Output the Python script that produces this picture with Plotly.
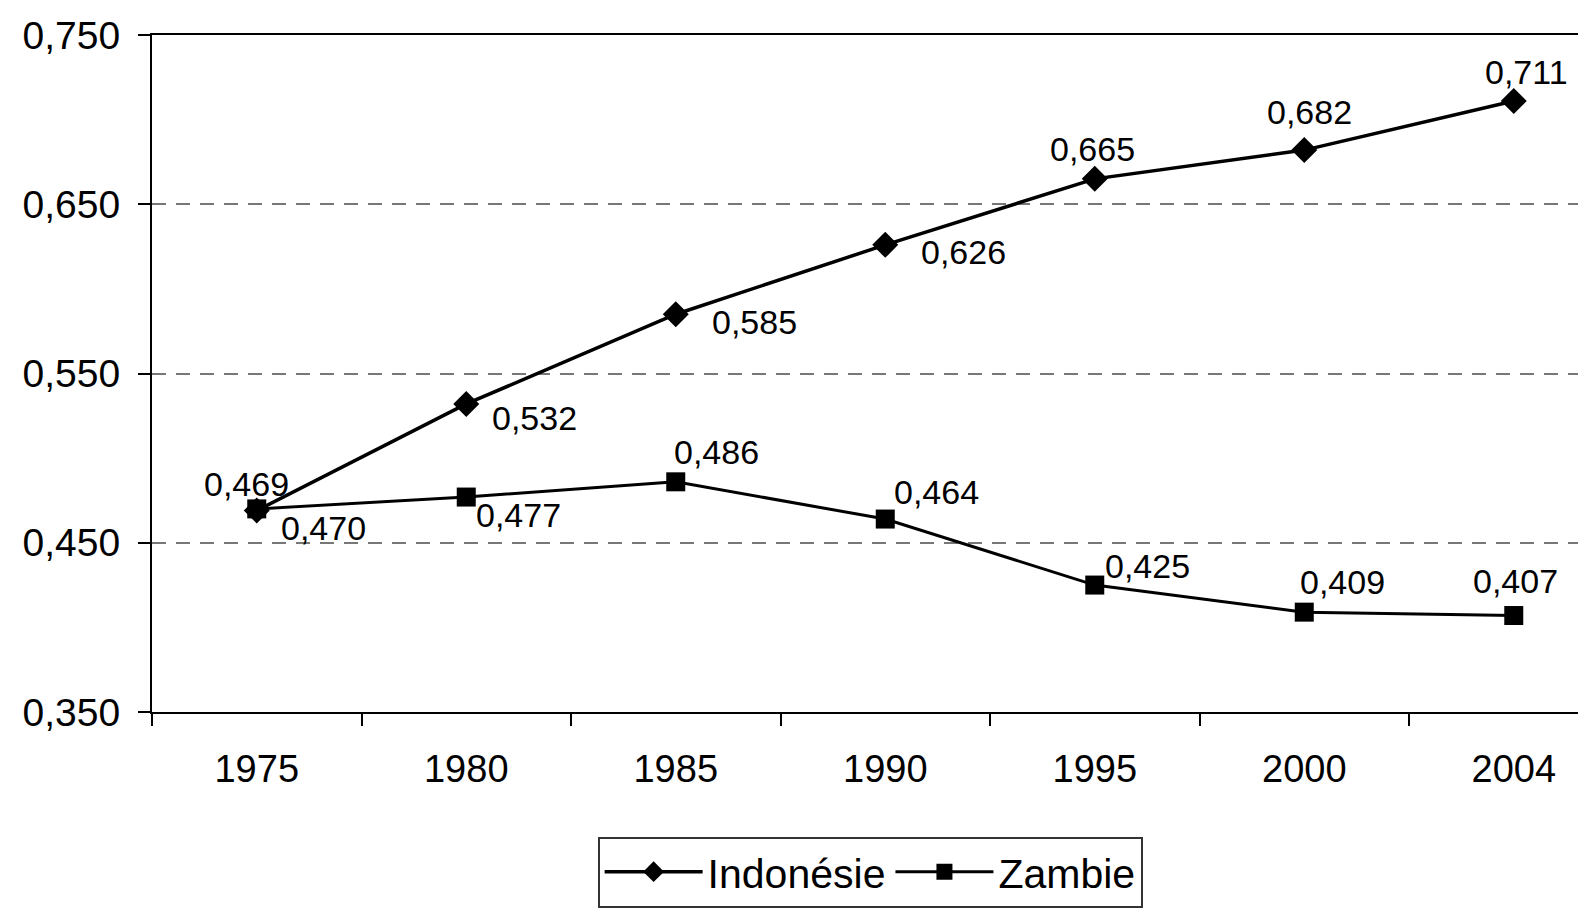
import plotly.graph_objects as go

years = ["1975", "1980", "1985", "1990", "1995", "2000", "2004"]
indonesie = [0.469, 0.532, 0.585, 0.626, 0.665, 0.682, 0.711]
zambie = [0.470, 0.477, 0.486, 0.464, 0.425, 0.409, 0.407]
y_ticks = [0.35, 0.45, 0.55, 0.65, 0.75]

# label offsets (pixels; positive dy = up)
indo_dx = [-10, 68, 79, 78, -2, 5, 13]
indo_dy = [27, -14, -8, -7, 30, 38, 29]
zam_dx = [67, 52, 41, 51, 53, 38, 2]
zam_dy = [-19, -18, 30, 27, 19, 30, 35]

FONT = "Liberation Sans, Arial, sans-serif"

fig = go.Figure()
fig.add_trace(go.Scatter(
    x=years, y=indonesie, name="Indonésie", mode="lines+markers",
    line=dict(color="black", width=3.5),
    marker=dict(symbol="diamond", size=20, color="black"),
))
fig.add_trace(go.Scatter(
    x=years, y=zambie, name="Zambie", mode="lines+markers",
    line=dict(color="black", width=3),
    marker=dict(symbol="square", size=19, color="black"),
))

annotations = []
for i, v in enumerate(indonesie):
    annotations.append(dict(x=i, y=v, xref="x", yref="y", text=f"{v:.3f}".replace(".", ","),
                            showarrow=False, xshift=indo_dx[i], yshift=indo_dy[i],
                            font=dict(family=FONT, size=34, color="black")))
for i, v in enumerate(zambie):
    annotations.append(dict(x=i, y=v, xref="x", yref="y", text=f"{v:.3f}".replace(".", ","),
                            showarrow=False, xshift=zam_dx[i], yshift=zam_dy[i],
                            font=dict(family=FONT, size=34, color="black")))

fig.update_layout(
    width=1586, height=903,
    margin=dict(l=144, r=0, t=27, b=199, autoexpand=False),
    paper_bgcolor="white", plot_bgcolor="white",
    separators=", ",
    font=dict(family=FONT, size=36, color="black"),
    hovermode=False,
    annotations=annotations,
    showlegend=True,
    legend=dict(orientation="h", x=0.498, xanchor="center", y=-0.184, yanchor="top",
                bordercolor="#333", borderwidth=2, bgcolor="white", itemwidth=98,
                font=dict(family=FONT, size=41, color="black")),
)
fig.update_xaxes(
    type="category", range=[-0.5, 6.383], automargin=False,
    tickson="boundaries", ticks="outside", ticklen=12, tickwidth=2, tickcolor="black",
    showline=True, linecolor="black", linewidth=2, mirror=True,
    showgrid=False, zeroline=False, ticklabelstandoff=22,
    tickfont=dict(family=FONT, size=38, color="black"),
)
fig.update_yaxes(
    range=[0.35, 0.75], tickvals=y_ticks, tickformat=".3f", automargin=False,
    ticks="outside", ticklen=12, tickwidth=2, tickcolor="black",
    showline=True, linecolor="black", linewidth=2,
    showgrid=True, gridcolor="#777", gridwidth=2, griddash="14px,10px",
    zeroline=False, ticklabelstandoff=10,
    tickfont=dict(family=FONT, size=39, color="black"),
)

fig.write_html("out.html")
